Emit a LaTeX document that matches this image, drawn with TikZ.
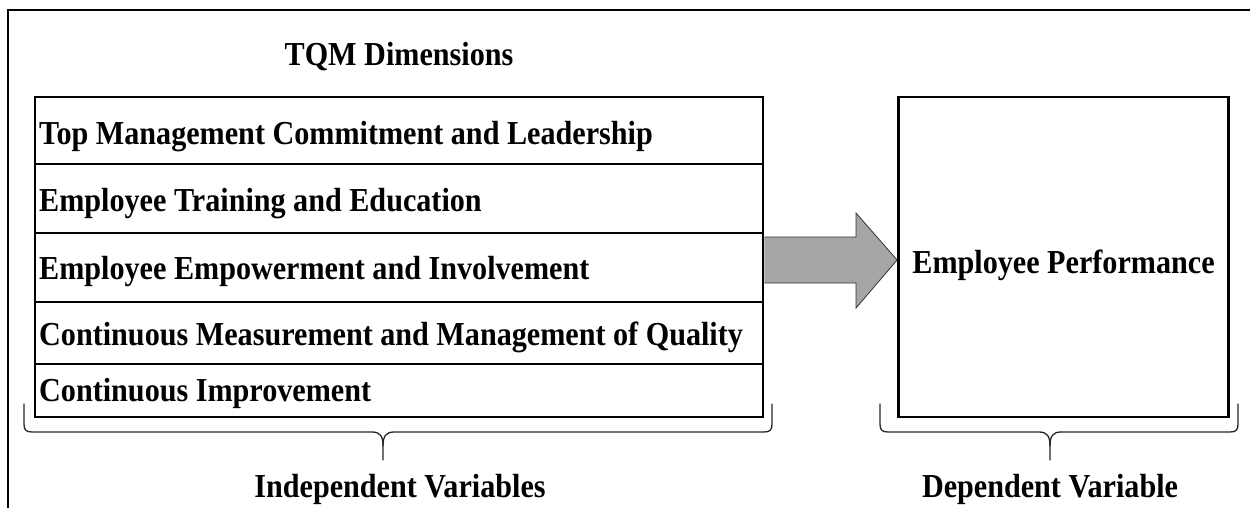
\documentclass[tikz,border=0pt]{standalone}
\usepackage{fontspec}
\setmainfont[FakeStretch=0.9]{Liberation Serif}
\usetikzlibrary{calc}
\begin{document}
\begin{tikzpicture}[x=1pt,y=-1pt,
  txt/.style={font=\fontsize{33.5}{40}\selectfont\bfseries, inner sep=0pt},
  frame/.style={line width=2.8pt},
  boxline/.style={line width=2.8pt},
  rowtext/.style={txt, anchor=west},
  bracepath/.style={line width=1.3pt, draw=black!85, line cap=round},
  bigarrow/.style={fill=black!35, draw=black!80, line width=0.8pt, line join=miter}]
\useasboundingbox (0,0) rectangle (1250,508);

% open frame: top edge and left edge
\draw[frame] (8,508) -- (8,10) -- (1250,10);

% heading
\node[txt] (head) at (399,57) {TQM Dimensions};

% left block of TQM dimensions
\node[draw, boxline, minimum width=728pt, minimum height=320pt, inner sep=0pt] (ind) at (399,257) {};
\draw[boxline] (ind.west |- 0,164) -- (ind.east |- 0,164);
\draw[boxline] (ind.west |- 0,233) -- (ind.east |- 0,233);
\draw[boxline] (ind.west |- 0,302) -- (ind.east |- 0,302);
\draw[boxline] (ind.west |- 0,364) -- (ind.east |- 0,364);

\node[rowtext] (r1) at (39,137) {Top Management Commitment and Leadership};
\node[rowtext] (r2) at (39,204) {Employee Training and Education};
\node[rowtext] (r3) at (39,271) {Employee Empowerment and Involvement};
\node[rowtext] (r4) at (39,337) {Continuous Measurement and Management of Quality};
\node[rowtext] (r5) at (39,393) {Continuous Improvement};

% right block
\node[draw, boxline, minimum width=330pt, minimum height=320pt, inner sep=0pt] (dep) at (1063.5,257) {};
\node[txt] (perf) at (dep.center |- 0,265) {Employee Performance};

% block arrow between the two blocks
\draw[bigarrow] (ind.east |- 0,237) -- (856,237) -- (856,213) -- (dep.west |- 0,260)
  -- (856,308) -- (856,283) -- (ind.east |- 0,283);

% braces under the blocks
\coordinate (b1) at (383,460);
\draw[bracepath] (24,404) -- (24,424) .. controls (24,430) and (26,432) .. (32,432)
  -- (372,432) .. controls (380,432) and (383,436) .. (383,446) -- (b1);
\draw[bracepath] (772,404) -- (772,424) .. controls (772,430) and (770,432) .. (764,432)
  -- (394,432) .. controls (386,432) and (383,436) .. (383,446);
\coordinate (b2) at (1050,460);
\draw[bracepath] (880,404) -- (880,424) .. controls (880,430) and (882,432) .. (888,432)
  -- (1039,432) .. controls (1047,432) and (1050,436) .. (1050,446) -- (b2);
\draw[bracepath] (1238,404) -- (1238,424) .. controls (1238,430) and (1236,432) .. (1230,432)
  -- (1061,432) .. controls (1053,432) and (1050,436) .. (1050,446);

\node[txt] (lab1) at (400,489) {Independent Variables};
\node[txt] (lab2) at (1050,489) {Dependent Variable};
\end{tikzpicture}
\end{document}
